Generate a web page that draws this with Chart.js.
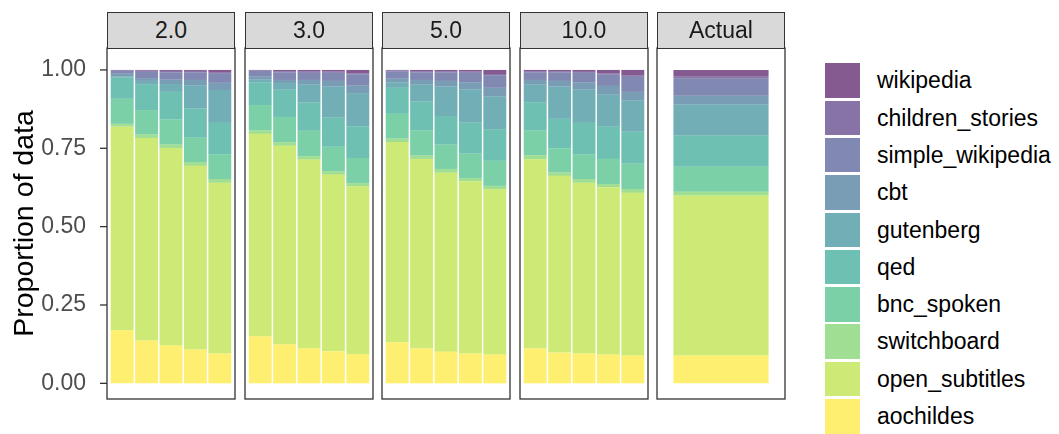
<!DOCTYPE html>
<html>
<head>
<meta charset="utf-8">
<script src="https://cdn.jsdelivr.net/npm/chart.js@4.4.1/dist/chart.umd.min.js"></script>
<style>
  body { margin: 0; background: #ffffff; }
  #wrap { position: relative; width: 1059px; height: 434px; overflow: hidden;
          font-family: "Liberation Sans", Arial, sans-serif; }
  #wrap canvas { position: absolute; }
  .strip { position: absolute; top: 12px; height: 37px; box-sizing: border-box;
           background: #d9d9d9; border: 1.3px solid #333333; color: #1a1a1a;
           font-size: 23px; line-height: 34px; text-align: center; z-index: 2; }
  .key { position: absolute; left: 825px; width: 35px; height: 34.5px; }
  .keylab { position: absolute; left: 877px; font-size: 23px; line-height: 34.5px; color: #000; }
</style>
</head>
<body>
<div id="wrap"></div>
<script>
// stacking order, bottom to top
const sources = ["aochildes", "open_subtitles", "switchboard", "bnc_spoken", "qed",
  "gutenberg", "cbt", "simple_wikipedia", "children_stories", "wikipedia"];
const facets = ["2.0", "3.0", "5.0", "10.0", "Actual"];
const runs = ["1", "2", "3", "4", "5"];

// 21 bars each: five runs for 2.0, 3.0, 5.0, 10.0, then Actual
const aochildes        = [.169,.137,.121,.108,.095, .150,.124,.112,.102,.093, .131,.111,.101,.095,.092, .111,.098,.095,.092,.089, .089];
const open_subtitles   = [.650,.646,.630,.586,.545, .646,.634,.602,.564,.536, .639,.605,.571,.550,.527, .604,.564,.545,.534,.519, .510];
const switchboard      = [.009,.011,.011,.012,.012, .011,.011,.011,.011,.010, .011,.011,.012,.010,.011, .013,.011,.012,.010,.012, .012];
const bnc_spoken       = [.080,.078,.080,.078,.079, .081,.081,.081,.078,.080, .079,.080,.078,.078,.080, .079,.077,.079,.080,.081, .080];
const qed              = [.068,.081,.088,.093,.100, .072,.087,.090,.093,.101, .083,.092,.091,.099,.101, .090,.094,.100,.103,.102, .100];
const gutenberg        = [.003,.012,.025,.074,.105, .009,.021,.057,.099,.106, .017,.054,.094,.106,.105, .056,.103,.106,.102,.099, .099];
const cbt              = [.009,.009,.014,.017,.023, .011,.010,.015,.018,.025, .012,.015,.018,.022,.027, .015,.018,.023,.028,.028, .028];
const simple_wikipedia = [.009,.020,.023,.024,.029, .017,.024,.023,.026,.035, .023,.024,.027,.031,.040, .024,.027,.031,.036,.048, .055];
const children_stories = [.002,.004,.005,.005,.005, .002,.004,.005,.004,.003, .003,.004,.004,.004,.004, .004,.004,.003,.004,.005, .006];
const wikipedia        = [.001,.002,.003,.003,.007, .001,.004,.004,.005,.011, .002,.004,.004,.005,.013, .004,.004,.006,.011,.017, .021];

const series = [aochildes, open_subtitles, switchboard, bnc_spoken, qed,
  gutenberg, cbt, simple_wikipedia, children_stories, wikipedia];
const yTicks = [0, 0.25, 0.5, 0.75, 1];

// viridis, reversed, alpha .65
const colours = ["rgba(253,231,37,0.65)", "rgba(180,222,44,0.65)", "rgba(109,205,89,0.65)",
  "rgba(53,183,121,0.65)", "rgba(31,158,137,0.65)", "rgba(38,130,142,0.65)",
  "rgba(49,104,142,0.65)", "rgba(62,74,137,0.65)", "rgba(72,40,120,0.65)",
  "rgba(68,1,84,0.65)"];

const FONT = "'Liberation Sans', Arial, sans-serif";
const panelLeft = [107, 245, 382, 520, 657];
const panelW = 128;
const PAD = 36; // room for the tick label overflow, same on every panel
const wrap = document.getElementById("wrap");

// panel border + y tick marks (frame is 3px wider than the chart area each side)
const framePlugin = {
  id: "frame",
  afterDatasetsDraw(chart, args, opts) {
    const { ctx, chartArea: a } = chart;
    ctx.save();
    ctx.strokeStyle = "#333333";
    ctx.lineWidth = 1.3;
    ctx.strokeRect(a.left - 3, a.top, a.right - a.left + 6, a.bottom - a.top);
    if (opts.ticks) {
      const y = chart.scales.y;
      y.ticks.forEach((t) => {
        const py = y.getPixelForValue(t.value);
        ctx.beginPath();
        ctx.moveTo(a.left - 10, py);
        ctx.lineTo(a.left - 3, py);
        ctx.stroke();
      });
    }
    ctx.restore();
  },
};

facets.forEach((facet, f) => {
  const first = f === 0;
  const actual = facet === "Actual";
  const labels = actual ? ["Actual"] : runs;
  const from = f * 5;
  const to = actual ? from + 1 : from + 5;

  const canvas = document.createElement("canvas");
  const left = first ? 0 : panelLeft[f] - 2;
  const width = first ? panelLeft[0] + panelW + 2 : panelW + 4;
  canvas.width = width;
  canvas.height = 351 + 2 * PAD;
  canvas.style.left = left + "px";
  canvas.style.top = (48 - PAD) + "px";
  wrap.appendChild(canvas);

  const strip = document.createElement("div");
  strip.className = "strip";
  strip.style.left = panelLeft[f] + "px";
  strip.style.width = panelW + "px";
  strip.textContent = facet;
  wrap.appendChild(strip);

  new Chart(canvas, {
    type: "bar",
    data: {
      labels: labels,
      datasets: sources.map((s, i) => ({
        label: s,
        data: series[i].slice(from, to),
        backgroundColor: colours[i],
        borderWidth: 0,
        categoryPercentage: 1,
        barPercentage: actual ? 0.78 : 0.94,
      })),
    },
    options: {
      responsive: false,
      animation: false,
      devicePixelRatio: 1,
      layout: { padding: { top: PAD, bottom: PAD, left: first ? 0 : 5, right: 5 } },
      scales: {
        x: { display: false, stacked: true, offset: true },
        y: {
          display: first,
          stacked: true,
          min: -0.05,
          max: 1.07,
          afterBuildTicks: (s) => { s.ticks = yTicks.map((v) => ({ value: v })); },
          afterFit: (s) => { if (first) s.width = 110; },
          grid: { display: false },
          border: { display: false },
          ticks: {
            padding: 16,
            color: "#4d4d4d",
            font: { size: 23, family: FONT },
            callback: (v) => Number(v).toFixed(2),
          },
          title: {
            display: true,
            text: "Proportion of data",
            color: "#000000",
            padding: { top: 8, bottom: 0 },
            font: { size: 28.5, family: FONT },
          },
        },
      },
      plugins: {
        legend: { display: false },
        tooltip: { enabled: false },
        frame: { ticks: first },
      },
    },
    plugins: [framePlugin],
  });
});

// legend, top entry is the last stacked source
sources.slice().reverse().forEach((s, i) => {
  const idx = sources.length - 1 - i;
  const top = 63.3 + i * 37.3;
  const key = document.createElement("div");
  key.className = "key";
  key.style.top = top + "px";
  key.style.background = colours[idx];
  wrap.appendChild(key);
  const lab = document.createElement("div");
  lab.className = "keylab";
  lab.style.top = top + "px";
  lab.textContent = s;
  wrap.appendChild(lab);
});
</script>
</body>
</html>
